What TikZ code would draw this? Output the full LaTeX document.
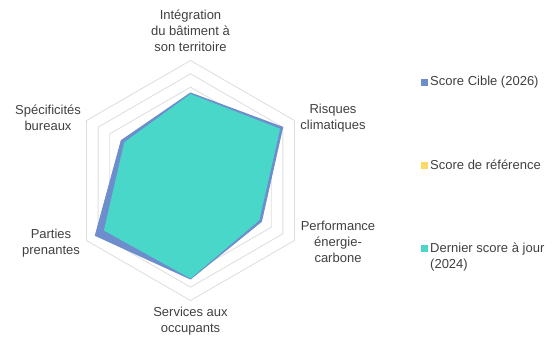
\documentclass[tikz,border=0pt]{standalone}
\usepackage{fontspec}
\setmainfont{Liberation Sans}
\definecolor{target}{HTML}{6E8DCD}
\definecolor{refc}{HTML}{FFD966}
\definecolor{cur}{HTML}{48D7C8}
\definecolor{gridc}{HTML}{DDDDDD}
\definecolor{txt}{HTML}{404040}
\begin{document}
\begin{tikzpicture}[x=1pt,y=1pt,
  lbl/.style={align=center,inner sep=0pt,font=\fontsize{13}{16}\selectfont,text=txt},
  leg/.style={align=left,inner sep=0pt,anchor=west,font=\fontsize{13}{16}\selectfont,text=txt},
  sq/.style={minimum size=7pt,inner sep=0pt,draw=none}]
\useasboundingbox (0,0) rectangle (553,-338);
\begin{scope}[shift={(190.5,-180.5)}]
  \foreach \k in {1,...,9}
    \draw[gridc,line width=0.8pt] (90:{\k*13.333}) -- (30:{\k*13.333}) -- (-30:{\k*13.333}) -- (-90:{\k*13.333}) -- (-150:{\k*13.333}) -- (150:{\k*13.333}) -- cycle;
  \filldraw[fill=target,draw=target,line width=0.8pt,line join=round]
    (90:87.6) -- (30:106.5) -- (-30:82) -- (-90:98.6) -- (210:110) -- (150:80) -- cycle;
  \fill[cur] (90:86.5) -- (30:103.5) -- (-30:79.5) -- (-90:98) -- (210:100) -- (150:76.5) -- cycle;
\end{scope}
\node[lbl] (ax1) at (190.5,-31) {Intégration\\du bâtiment à\\son territoire};
\node[lbl] (ax2) at (333,-118) {Risques\\climatiques};
\node[lbl] (ax3) at (338,-242) {Performance\\énergie-\\carbone};
\node[lbl] (ax4) at (190.5,-321) {Services aux\\occupants};
\node[lbl] (ax5) at (51,-243) {Parties\\prenantes};
\node[lbl] (ax6) at (48,-118) {Spécificités\\bureaux};
\node[sq,fill=target] (s1) at (424.5,-82) {};
\node[sq,fill=refc] (s2) at (424.5,-165) {};
\node[sq,fill=cur] (s3) at (424.5,-248) {};
\node[leg] (l1) at (430,-82) {Score Cible (2026)};
\node[leg] (l2) at (430,-165) {Score de référence};
\node[leg] (l3) at (430,-257.5) {Dernier score à jour\\(2024)};
\end{tikzpicture}
\end{document}
